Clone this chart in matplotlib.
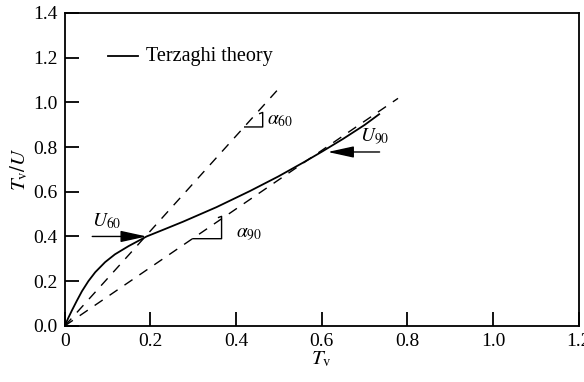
import matplotlib
matplotlib.use('Agg')
import matplotlib.pyplot as plt

plt.rcParams['font.family'] = ['Liberation Serif', 'DejaVu Serif']
plt.rcParams['mathtext.fontset'] = 'stix'

# Terzaghi curve
tv = [0.0, 0.008, 0.0163, 0.028, 0.040, 0.055, 0.071, 0.094, 0.117, 0.149, 0.191,
      0.235, 0.276, 0.354, 0.432, 0.498, 0.556, 0.600, 0.650, 0.700, 0.734]
tv_u = [0.0, 0.035, 0.068, 0.112, 0.155, 0.200, 0.240, 0.285, 0.320, 0.357, 0.400,
        0.434, 0.466, 0.531, 0.603, 0.668, 0.730, 0.779, 0.837, 0.899, 0.947]

# tangent lines (dashed)
line60_x = [0.0, 0.502]
line60_y = [0.0, 1.067]
line90_x = [0.0, 0.778]
line90_y = [0.0, 1.018]

xticks = [0, 0.2, 0.4, 0.6, 0.8, 1.0, 1.2]
xlabels = ['0', '0.2', '0.4', '0.6', '0.8', '1.0', '1.2']
yticks = [0.0, 0.2, 0.4, 0.6, 0.8, 1.0, 1.2, 1.4]

fig = plt.figure(figsize=(5.84, 3.82), dpi=100)
ax = fig.add_axes([0.111, 0.147, 0.880, 0.819])

ax.plot(tv, tv_u, 'k-', lw=1.3)
ax.plot(line60_x, line60_y, 'k', lw=1.0, dashes=(7, 6))
ax.plot(line90_x, line90_y, 'k', lw=1.0, dashes=(7, 6))

ax.set_xlim(0, 1.2)
ax.set_ylim(0, 1.4)
ax.set_xticks(xticks)
ax.set_xticklabels(xlabels)
ax.set_yticks(yticks)
ax.set_yticklabels(['%.1f' % v for v in yticks])
ax.tick_params(direction='in', length=10, width=1.3, labelsize=14, pad=5)
for sp in ax.spines.values():
    sp.set_linewidth(1.3)

ax.set_xlabel(r'$T_{\mathrm{v}}$', fontsize=15, labelpad=0)
ax.set_ylabel(r'$T_{\mathrm{v}}/U$', fontsize=15, labelpad=2)

# legend
ax.plot([0.100, 0.171], [1.207, 1.207], 'k-', lw=1.3)
ax.text(0.19, 1.207, 'Terzaghi theory', fontsize=14.5, va='center', ha='left')

# U60 arrow
ax.annotate('', xy=(0.191, 0.40), xytext=(0.064, 0.40),
            arrowprops=dict(arrowstyle='-|>,head_length=1.6,head_width=0.35', color='k', lw=1.0,
                            shrinkA=0, shrinkB=0))
ax.text(0.064, 0.425, r'$U_{60}$', fontsize=14, ha='left', va='bottom')

# U90 arrow
ax.annotate('', xy=(0.614, 0.778), xytext=(0.735, 0.778),
            arrowprops=dict(arrowstyle='-|>,head_length=1.6,head_width=0.35', color='k', lw=1.0,
                            shrinkA=0, shrinkB=0))
ax.text(0.69, 0.80, r'$U_{90}$', fontsize=14, ha='left', va='bottom')

# slope marks
ax.plot([0.42, 0.462, 0.462, 0.455], [0.89, 0.89, 0.955, 0.95], 'k-', lw=1.0)
ax.text(0.472, 0.92, r'$\alpha_{60}$', fontsize=14, ha='left', va='center')
ax.plot([0.299, 0.366, 0.366, 0.359], [0.39, 0.39, 0.49, 0.485], 'k-', lw=1.0)
ax.text(0.40, 0.41, r'$\alpha_{90}$', fontsize=14, ha='left', va='center')

fig.savefig('out.png', dpi=100)
